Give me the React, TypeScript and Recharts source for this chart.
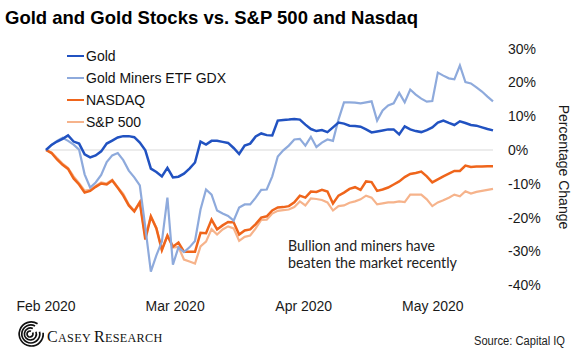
import React from "react";
import { LineChart, Line, XAxis, YAxis, ReferenceLine } from "recharts";

// % change since the start, one value per trading session
const gold = [
  0, 1.5, 2.5, 3.3, 4.3, 2.5, 1.9, -1.3, -2.2, -1.6,
  -0.4, 1.9, 2.8, 3.7, 4.1, 4.1, 3.8, 2.2, -0.1, -5.5,
  -6.5, -7.8, -5.3, -8.1, -7.9, -7.0, -5.5, -3.7, 2.5, 1.6,
  2.7, 2.7, 2.4, 2.1, 0.6, -1.2, 1.3, 1.9, 4.0, 4.9,
  4.4, 4.3, 8.7, 8.9, 9.0, 9.2, 9.0, 7.5, 6.2, 5.6,
  5.9, 5.3, 6.7, 8.1, 7.8, 7.2, 7.1, 6.9, 6.1, 5.2,
  5.5, 5.8, 6.1, 6.1, 4.6, 7.0, 6.1, 5.6, 5.3, 5.9,
  6.7, 8.1, 8.7, 8.0, 7.4, 8.5, 8.0, 7.4, 7.2, 6.7,
  6.2, 5.8,
];

const gdx = [
  0, 1.5, 2.7, 3.6, 2.7, 1.6, 0.1, -7.2, -11.1, -9.6,
  -7.4, -3.6, -1.6, -0.9, -3.0, -6.1, -8.1, -10.5, -22.9, -36.0,
  -31.2, -27.1, -14.1, -33.9, -28.8, -30.2, -28.8, -26.9, -17.6, -11.7,
  -13.2, -17.9, -18.8, -19.5, -20.9, -17.0, -16.1, -16.1, -14.1, -11.8,
  -11.7, -7.8, -1.9, -0.1, 1.3, 3.1, 3.3, 1.3, 3.9, 0.9,
  2.2, 3.1, 2.7, 9.0, 14.1, 14.1, 14.0, 13.8, 14.1, 14.4,
  8.7, 11.7, 13.2, 13.8, 16.9, 14.1, 17.9, 16.4, 15.2, 14.3,
  14.5, 22.9, 22.0, 21.2, 20.9, 25.0, 20.1, 19.7, 18.5, 17.3,
  15.8, 14.4,
];

const nasdaq = [
  0, -0.9, -2.8, -4.4, -5.6, -8.4, -10.2, -12.6, -12.1, -10.9,
  -9.9, -10.2, -9.0, -11.2, -13.5, -16.4, -18.2, -15.5, -26.5, -19.7,
  -23.2, -29.6, -25.3, -28.6, -27.4, -30.1, -30.1, -30.1, -24.5, -24.6,
  -20.6, -23.5, -22.3, -21.3, -21.4, -25.0, -23.8, -23.5, -21.9, -20.0,
  -19.6, -17.9, -17.0, -16.9, -16.6, -15.5, -13.5, -14.1, -12.3, -12.4,
  -11.8, -12.3, -15.8, -13.5, -12.6, -11.5, -11.0, -11.8, -9.3, -9.5,
  -12.1, -11.7, -11.1, -10.2, -9.3, -8.0, -7.1, -6.8, -6.4, -7.8,
  -9.6, -8.7, -7.8, -7.0, -6.2, -6.2, -4.6, -5.0, -4.9, -4.9,
  -4.8, -4.8,
];

const sp500 = [
  0, -0.7, -2.4, -4.0, -5.3, -7.8, -9.8, -12.0, -11.8, -10.6,
  -9.6, -9.9, -8.8, -11.0, -13.0, -16.1, -18.0, -15.3, -26.0, -19.5,
  -23.0, -29.5, -25.4, -28.9, -28.7, -32.4, -33.0, -33.6, -28.5, -27.1,
  -23.4, -25.0, -23.5, -22.6, -23.2, -26.9, -25.7, -25.3, -23.2, -20.7,
  -20.6, -18.8, -18.0, -17.8, -17.6, -16.9, -15.2, -16.4, -14.3, -14.5,
  -14.8, -15.5, -17.9, -16.6, -16.4, -15.6, -15.2, -14.6, -13.5, -14.1,
  -16.1, -15.8, -15.5, -15.5, -15.2, -15.4, -13.2, -13.2, -13.2, -14.6,
  -16.6, -15.5, -14.9, -14.1, -13.2, -13.7, -12.2, -12.9, -12.4, -12.1,
  -11.8, -11.5,
];

const monthTicks = [0, 23.4, 46.7, 70.1];
const monthLabels = ["Feb 2020", "Mar 2020", "Apr 2020", "May 2020"];
const pctTicks = [-40, -30, -20, -10, 0, 10, 20, 30];

const series = [
  { key: "sp500", name: "S&P 500", color: "#f6b38b", width: 2.2 },
  { key: "nasdaq", name: "NASDAQ", color: "#ef651b", width: 2.5 },
  { key: "gdx", name: "Gold Miners ETF GDX", color: "#8eaadc", width: 2.2 },
  { key: "gold", name: "Gold", color: "#2152c1", width: 2.5 },
];

const rows = gold.map((g, i) => ({
  i,
  gold: g,
  gdx: gdx[i],
  nasdaq: nasdaq[i],
  sp500: sp500[i],
}));

const FONT = "'Liberation Sans', Arial, sans-serif";

function LegendBox() {
  // legend lists the series in reverse drawing order
  const items = [...series].reverse();
  return (
    <div style={{ position: "absolute", left: 67, top: 45, fontFamily: FONT, fontSize: 14, color: "#111" }}>
      {items.map((s) => (
        <div key={s.key} style={{ display: "flex", alignItems: "center", height: 22 }}>
          <span style={{ display: "inline-block", width: 17, height: 2.5, background: s.color, marginRight: 2 }} />
          <span>{s.name}</span>
        </div>
      ))}
    </div>
  );
}

function arc(cx: number, cy: number, r: number, a0: number, a1: number) {
  const p = (a: number) => [cx + r * Math.cos((a * Math.PI) / 180), cy + r * Math.sin((a * Math.PI) / 180)];
  const [x0, y0] = p(a0);
  const [x1, y1] = p(a1);
  return `M${x0} ${y0} A${r} ${r} 0 1 1 ${x1} ${y1}`;
}

function Overlay() {
  return (
    <svg width={580} height={355} style={{ position: "absolute", left: 0, top: 0, pointerEvents: "none" }}>
      <text x={5} y={23.5} fontFamily={FONT} fontSize={18.5} fontWeight="bold" fill="#000">
        Gold and Gold Stocks vs. S&amp;P 500 and Nasdaq
      </text>
      <text
        x={564}
        y={167}
        transform="rotate(90 564 167)"
        textAnchor="middle"
        dominantBaseline="central"
        fontFamily={FONT}
        fontSize={14}
        fill="#1a1a1a"
      >
        Percentage Change
      </text>
      <g fontFamily="Lato, 'Open Sans', sans-serif" fontSize={14.5} fill="#222">
        <text x={288} y={251} textLength={147} lengthAdjust="spacingAndGlyphs">
          Bullion and miners have
        </text>
        <text x={288} y={268} textLength={169} lengthAdjust="spacingAndGlyphs">
          beaten the market recently
        </text>
      </g>
      <g fill="none" stroke="#111" strokeWidth={1.7}>
        {[3, 6, 9, 12].map((r, k) => (
          <path key={r} d={arc(30 + k * 0.4, 334, r, -30 + k * 8, -70 + k * 4)} />
        ))}
      </g>
      <text x={47} y={342} fontFamily="'Liberation Serif', 'DejaVu Serif', serif" fill="#111" letterSpacing={0.3}>
        <tspan fontSize={16}>C</tspan>
        <tspan fontSize={12.2}>ASEY </tspan>
        <tspan fontSize={16}>R</tspan>
        <tspan fontSize={12.2}>ESEARCH</tspan>
      </text>
      <text x={565} y={345} textAnchor="end" fontFamily={FONT} fontSize={12} fill="#222" textLength={91} lengthAdjust="spacingAndGlyphs">
        Source: Capital IQ
      </text>
    </svg>
  );
}

export default function App() {
  return (
    <div style={{ position: "absolute", left: 0, top: 0, width: 580, height: 355, background: "#fff" }}>
      <LineChart width={580} height={355} data={rows} margin={{ top: 48.6, right: 27, bottom: 39.8, left: 46 }}>
        <XAxis
          type="number"
          dataKey="i"
          domain={[0, 81]}
          ticks={monthTicks}
          interval={0}
          tickFormatter={(v) => monthLabels[monthTicks.indexOf(v)]}
          axisLine={false}
          tickLine={false}
          tickMargin={10}
          height={30}
          tick={{ fill: "#1a1a1a", fontSize: 14, fontFamily: FONT }}
        />
        <YAxis
          orientation="right"
          domain={[-40, 30]}
          ticks={pctTicks}
          interval={0}
          tickFormatter={(v) => `${v}%`}
          axisLine={false}
          tickLine={false}
          tickMargin={9}
          width={60}
          tick={{ fill: "#1a1a1a", fontSize: 14, fontFamily: FONT }}
        />
        <ReferenceLine y={0} stroke="#d9d9d9" strokeWidth={1} />
        {series.map((s) => (
          <Line
            key={s.key}
            type="linear"
            dataKey={s.key}
            name={s.name}
            stroke={s.color}
            strokeWidth={s.width}
            dot={false}
            activeDot={false}
            isAnimationActive={false}
          />
        ))}
      </LineChart>
      <LegendBox />
      <Overlay />
    </div>
  );
}
